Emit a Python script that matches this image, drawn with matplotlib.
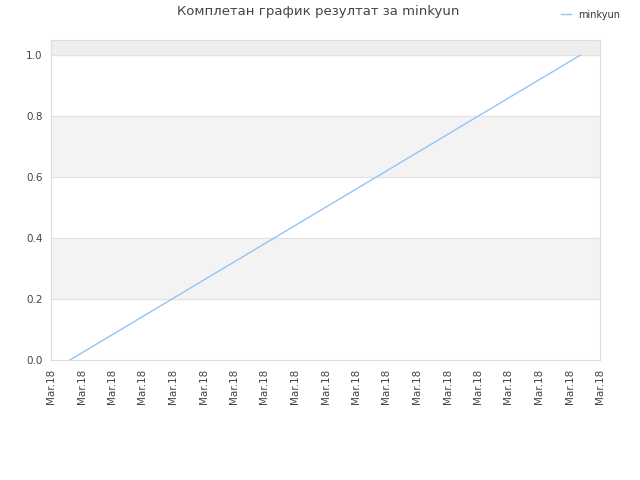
import numpy as np
import matplotlib.pyplot as plt

x_ticks = list(range(19))
x_labels = ["Mar.18"] * 19
x_data = [0.62, 17.35]
y_data = [0.0, 1.0]
y_ticks = [0.0, 0.2, 0.4, 0.6, 0.8, 1.0]

fig = plt.figure(figsize=(6.4, 4.8), dpi=100)
ax = fig.add_axes([51/640, 120/480, 549/640, 320/480])

# alternating bands
ax.axhspan(0.2, 0.4, color="#f3f3f3", zorder=0)
ax.axhspan(0.6, 0.8, color="#f3f3f3", zorder=0)
ax.axhspan(1.0, 1.05, color="#eeeeee", zorder=0)
for yv in y_ticks[1:]:
    ax.axhline(yv, color="#e2e2e2", lw=0.8, zorder=1)

ax.plot(x_data, y_data, color="#94c4f4", lw=1, label="minkyun", zorder=3)

ax.set_xlim(0, 18)
ax.set_ylim(0, 1.05)
ax.set_xticks(x_ticks)
ax.set_xticklabels(x_labels, rotation=90, fontsize=7.5, color="#444444")
ax.set_yticks(y_ticks)
ax.set_yticklabels([f"{v:.1f}" for v in y_ticks], fontsize=7.5, color="#444444")
ax.tick_params(length=0, pad=6)
for s in ax.spines.values():
    s.set_color("#dddddd")

fig.text(318/640, 1 - 12/480, "Комплетан график резултат за minkyun",
         ha="center", va="center", fontsize=9.5, color="#444444")
fig.legend(loc="upper right", bbox_to_anchor=(0.983, 0.998), frameon=False,
           fontsize=7, handlelength=1.0, labelcolor="#333333")

fig.savefig("out.png", dpi=100)
